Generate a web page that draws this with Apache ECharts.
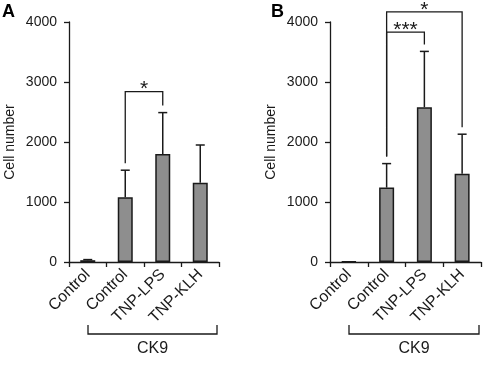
<!DOCTYPE html>
<html>
<head>
<meta charset="utf-8">
<script src="https://cdn.jsdelivr.net/npm/echarts@6/dist/echarts.min.js"></script>
<style>
  html, body { margin: 0; padding: 0; background: #fff; }
  #main { width: 500px; height: 373px; }
</style>
</head>
<body>
<div id="main"></div>
<script>
// data
var categories = ['Control', 'Control', 'TNP-LPS', 'TNP-KLH'];
var yTicks = [0, 1000, 2000, 3000, 4000];

var meanA = [30, 1080, 1800, 1320];
var sdA = [10, 450, 690, 630];
var meanB = [10, 1240, 2580, 1470];
var sdB = [0, 400, 930, 660];

// [from category, to category, bracket height, label]
var sigA = [[1, 2, 2840, '*']];
var sigB = [[1, 2, 3830, '***'], [1, 3, 4170, '*']];

var FONT = 'Liberation Sans, Arial, sans-serif';
var INK = '#1a1a1a';

var chart = echarts.init(document.getElementById('main'));

function errorSeries(idx, mean, sd) {
  return {
    type: 'custom',
    xAxisIndex: idx, yAxisIndex: idx,
    z: 3,
    data: mean.map(function (m, i) { return [i, m, sd[i]]; }),
    renderItem: function (params, api) {
      var i = api.value(0), m = api.value(1), s = api.value(2);
      if (!s) return null;
      var p0 = api.coord([i, m]);
      var p1 = api.coord([i, m + s]);
      var st = { stroke: INK, lineWidth: 1.5 };
      return {
        type: 'group',
        children: [
          { type: 'line', shape: { x1: p0[0], y1: p0[1], x2: p1[0], y2: p1[1] }, style: st },
          { type: 'line', shape: { x1: p1[0] - 4.5, y1: p1[1], x2: p1[0] + 4.5, y2: p1[1] }, style: st }
        ]
      };
    }
  };
}

function sigSeries(idx, mean, sd, sig) {
  return {
    type: 'custom',
    xAxisIndex: idx, yAxisIndex: idx,
    clip: false,
    z: 4,
    data: sig,
    renderItem: function (params, api) {
      var a = api.value(0), b = api.value(1), h = api.value(2);
      var label = sig[params.dataIndex][3];
      var pa = api.coord([a, h]);
      var pb = api.coord([b, h]);
      var ya = api.coord([a, mean[a] + sd[a]])[1] - 7;
      var yb = api.coord([b, mean[b] + sd[b]])[1] - 7;
      var st = { stroke: INK, lineWidth: 1.3, fill: null };
      return {
        type: 'group',
        children: [
          { type: 'polyline', shape: { points: [[pa[0], ya], [pa[0], pa[1]], [pb[0], pb[1]], [pb[0], yb]] }, style: st },
          { type: 'text', style: { text: label, x: (pa[0] + pb[0]) / 2, y: pa[1] - 2,
              align: 'center', verticalAlign: 'middle', fontSize: 21, fontFamily: FONT, fill: INK } }
        ]
      };
    }
  };
}

function barSeries(idx, mean) {
  return {
    type: 'bar',
    xAxisIndex: idx, yAxisIndex: idx,
    data: mean,
    barWidth: 15,
    z: 2,
    itemStyle: { color: '#8e8e8e', borderColor: INK, borderWidth: 1.5 }
  };
}

function xAxis(idx) {
  return {
    type: 'category',
    gridIndex: idx,
    data: categories,
    axisLine: { lineStyle: { color: INK, width: 1.3 } },
    axisTick: { show: true, length: 5, lineStyle: { color: INK, width: 1.3 } },
    axisLabel: { rotate: 45, fontSize: 16, color: INK, fontFamily: FONT, margin: 10, interval: 0 }
  };
}

function yAxis(idx) {
  return {
    type: 'value',
    gridIndex: idx,
    min: yTicks[0], max: yTicks[yTicks.length - 1], interval: 1000,
    name: 'Cell number',
    nameLocation: 'middle',
    nameRotate: 90,
    nameGap: 52,
    nameTextStyle: { fontSize: 14, color: INK, fontFamily: FONT },
    splitLine: { show: false },
    axisLine: { show: true, lineStyle: { color: INK, width: 1.3 } },
    axisTick: { show: true, length: 5, lineStyle: { color: INK, width: 1.3 } },
    axisLabel: { fontSize: 14, color: INK, fontFamily: FONT, margin: 12,
      formatter: function (v) { return String(v); } }
  };
}

function groupBracket(x1, x2, y, label) {
  var st = { stroke: INK, lineWidth: 1.3, fill: null };
  return [
    { type: 'polyline', shape: { points: [[x1, y - 9], [x1, y], [x2, y], [x2, y - 9]] }, style: st },
    { type: 'text', style: { text: label, x: (x1 + x2) / 2, y: y + 15, align: 'center',
        verticalAlign: 'middle', fontSize: 16, fontFamily: FONT, fill: INK } }
  ];
}

var option = {
  animation: false,
  backgroundColor: '#fff',
  grid: [
    { left: 69, right: 281, top: 22, bottom: 111 },
    { left: 330, right: 19, top: 22, bottom: 111 }
  ],
  xAxis: [xAxis(0), xAxis(1)],
  yAxis: [yAxis(0), yAxis(1)],
  series: [
    barSeries(0, meanA), errorSeries(0, meanA, sdA), sigSeries(0, meanA, sdA, sigA),
    barSeries(1, meanB), errorSeries(1, meanB, sdB), sigSeries(1, meanB, sdB, sigB)
  ],
  graphic: [
    { type: 'text', left: 2, top: 3, style: { text: 'A', fontSize: 18, fontWeight: 'bold', fontFamily: FONT, fill: '#000' } },
    { type: 'text', left: 271, top: 3, style: { text: 'B', fontSize: 18, fontWeight: 'bold', fontFamily: FONT, fill: '#000' } }
  ].concat(groupBracket(88, 217, 334, 'CK9'), groupBracket(349, 479, 334, 'CK9'))
};

chart.setOption(option);
</script>
</body>
</html>
